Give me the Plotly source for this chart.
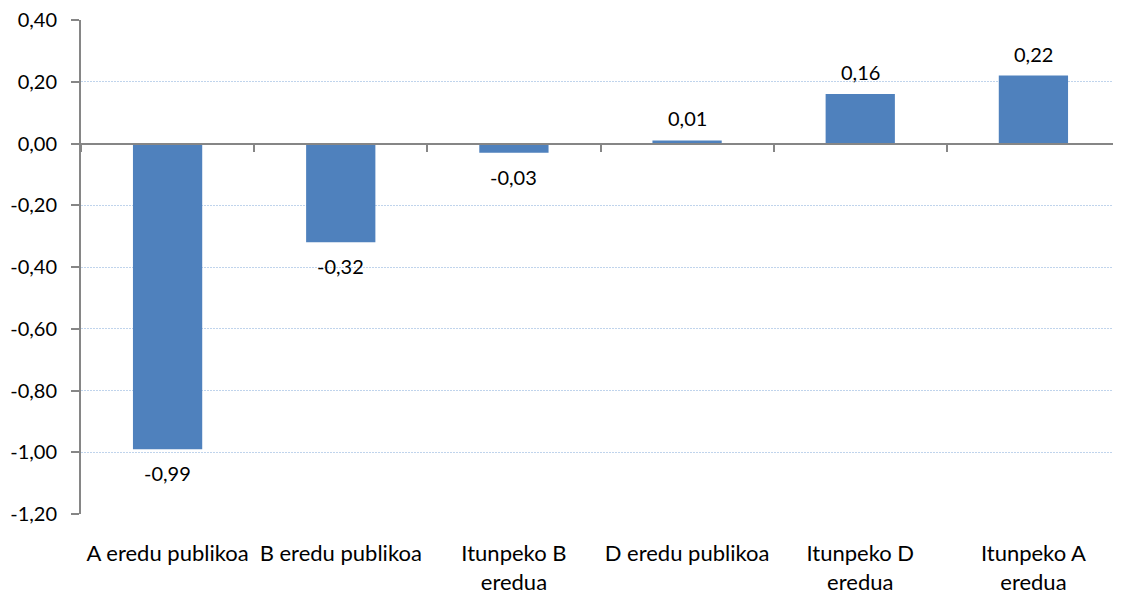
import plotly.graph_objects as go

categories = ["A eredu publikoa", "B eredu publikoa", "Itunpeko B<br>eredua",
              "D eredu publikoa", "Itunpeko D<br>eredua", "Itunpeko A<br>eredua"]
values = [-0.99, -0.32, -0.03, 0.01, 0.16, 0.22]
y_tickvals = [0.4, 0.2, 0.0, -0.2, -0.4, -0.6, -0.8, -1.0, -1.2]
y_ticktext = ["0,40", "0,20", "0,00", "-0,20", "-0,40", "-0,60", "-0,80", "-1,00", "-1,20"]

labels = [f"{v:.2f}".replace(".", ",") for v in values]

FONT = "Lato"
NUM_SIZE = 20
CAT_SIZE = 22
fig = go.Figure()
fig.add_trace(go.Bar(
    x=categories, y=values, marker=dict(color="#4F81BD", line=dict(width=0)),
    hoverinfo="skip", showlegend=False,
))
# invisible trace to drive the zero-line axis with boundary ticks
fig.add_trace(go.Scatter(
    x=categories, y=values, xaxis="x2", mode="markers",
    marker=dict(opacity=0), hoverinfo="skip", showlegend=False,
))

for c, v, t in zip(categories, values, labels):
    fig.add_annotation(
        x=c, y=v, text=t, showarrow=False, yanchor="middle",
        yshift=22 if v >= 0 else -24,
        font=dict(family=FONT, size=NUM_SIZE, color="#000000"),
    )

fig.update_layout(
    width=1113, height=586,
    margin=dict(l=73, r=1, t=12, b=80),
    paper_bgcolor="white", plot_bgcolor="white",
    bargap=0.6,
    font=dict(family=FONT, size=NUM_SIZE, color="#000000"),
    xaxis=dict(
        type="category", range=[-0.5, 5.5], showline=False, showgrid=False,
        ticks="", zeroline=False, ticklabelstandoff=24, automargin=False,
        tickfont=dict(family=FONT, size=CAT_SIZE, color="#000000"),
    ),
    xaxis2=dict(
        type="category", overlaying="x", anchor="free", position=0.75,
        range=[-0.5, 5.5], side="bottom", tickson="boundaries",
        ticks="outside", ticklen=7, tickwidth=2, tickcolor="#868686",
        showticklabels=False, showline=True, linecolor="#868686", linewidth=2,
        showgrid=False, zeroline=False,
    ),
    yaxis=dict(
        range=[-1.2000001, 0.4000001], tickvals=y_tickvals, ticktext=y_ticktext,
        showline=True, linecolor="#868686", linewidth=2,
        ticks="outside", ticklen=8, tickwidth=2, tickcolor="#868686",
        ticklabelstandoff=10, automargin=False, ticklabeloverflow="allow",
        showgrid=True, gridcolor="#C0D4EC", griddash="2px,1px", gridwidth=1,
        zeroline=False,
        tickfont=dict(family=FONT, size=NUM_SIZE, color="#000000"),
    ),
)

fig.write_html("out.html")
